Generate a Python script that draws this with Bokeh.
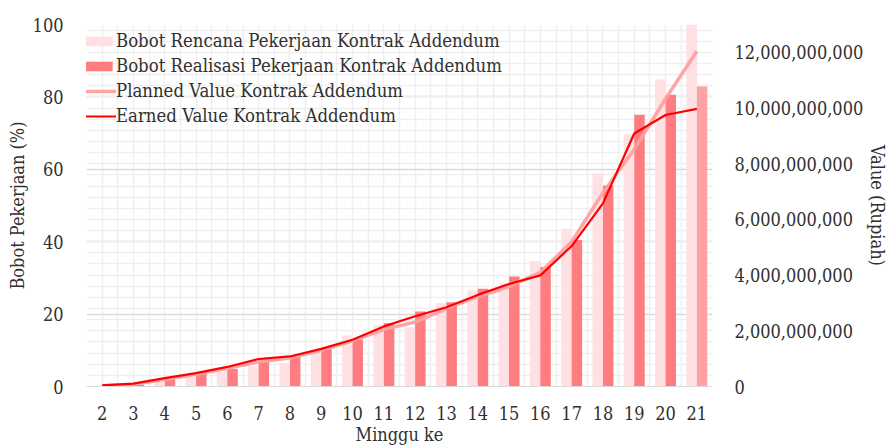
from bokeh.plotting import figure
from bokeh.models import (ColumnDataSource, LinearAxis, Range1d, FixedTicker,
                          NumeralTickFormatter, Grid, Legend, LegendItem)
from bokeh.transform import dodge
from bokeh.embed import file_html
from bokeh.resources import INLINE

# Weekly progress data (week number, cumulative percent, cumulative value in Rupiah)
weeks = list(range(2, 22))
bobot_rencana = [0.2, 0.5, 1.3, 2.6, 4.2, 5.6, 6.5, 10.0, 14.1, 16.9,
                 16.4, 23.0, 26.5, 28.5, 34.6, 43.6, 58.8, 69.7, 84.8, 100.0]
bobot_realisasi = [0.1, 0.4, 2.1, 3.7, 4.8, 7.6, 8.3, 10.7, 13.0, 17.5,
                   20.7, 23.3, 27.0, 30.4, 33.0, 40.5, 55.5, 75.1, 80.6, 82.9]
planned_value = [26e6, 78e6, 247e6, 442e6, 650e6, 884e6, 1027e6, 1300e6, 1638e6, 2041e6,
                 2314e6, 2795e6, 3224e6, 3588e6, 4095e6, 5200e6, 6955e6, 8515e6, 10335e6, 12038e6]
earned_value = [39e6, 104e6, 299e6, 481e6, 702e6, 988e6, 1079e6, 1352e6, 1677e6, 2158e6,
                2522e6, 2847e6, 3289e6, 3679e6, 3991e6, 5044e6, 6578e6, 9087e6, 9750e6, 9971e6]
left_ticks = [0, 20, 40, 60, 80, 100]
right_ticks = [0, 2e9, 4e9, 6e9, 8e9, 10e9, 12e9]

FONT = "DejaVu Serif Condensed"
FONT_SIZE = "18px"
TEXT = "#303030"
LIGHT = "#FFE0E3"
DARK = "#FF7C80"
DARK_LAST = "#FFA2A4"
PV_COLOR = "#FFA0A0"
EV_COLOR = "#FF0000"

real_colors = [DARK] * (len(weeks) - 1) + [DARK_LAST]

src = ColumnDataSource(dict(week=weeks, rencana=bobot_rencana, realisasi=bobot_realisasi,
                            pv=planned_value, ev=earned_value, rcol=real_colors))

p = figure(width=891, height=447, output_backend="svg", toolbar_location=None,
           x_range=Range1d(1.5, 21.5), y_range=Range1d(0, 100),
           min_border_left=86, min_border_right=173, min_border_top=24, min_border_bottom=61)
p.extra_y_ranges = {"val": Range1d(0, 13e9)}
p.outline_line_color = None
p.background_fill_color = "white"

# grids: half-week verticals, fine horizontals from the value axis, major percent lines
p.xgrid.ticker = FixedTicker(ticks=[1.5 + 0.5 * i for i in range(41)])
p.xgrid.grid_line_color = "#EFEFEF"
p.xgrid.grid_line_width = 1.5
p.ygrid.ticker = FixedTicker(ticks=left_ticks)
p.ygrid.grid_line_color = "#D9D9D9"
p.ygrid.grid_line_width = 1.5
minor = Grid(dimension=1, y_range_name="val",
             ticker=FixedTicker(ticks=[0.4e9 * i for i in range(33)]),
             grid_line_color="#EFEFEF", grid_line_width=1.5, level="underlay")
p.add_layout(minor)

bw = 0.335
r_ren = p.vbar(x=dodge("week", -bw / 2, range=p.x_range), top="rencana", width=bw,
               source=src, fill_color=LIGHT, line_color=None)
r_real = p.vbar(x=dodge("week", bw / 2, range=p.x_range), top="realisasi", width=bw,
                source=src, fill_color="rcol", line_color=None)
r_pv = p.line("week", "pv", source=src, y_range_name="val", line_color=PV_COLOR,
              line_width=3.5, line_alpha=0.95)
r_ev = p.line("week", "ev", source=src, y_range_name="val", line_color=EV_COLOR,
              line_width=2.2)

# axes
def style_axis(ax, standoff):
    ax.axis_line_color = None
    ax.major_tick_line_color = None
    ax.minor_tick_line_color = None
    ax.major_label_text_font = FONT
    ax.major_label_text_font_size = FONT_SIZE
    ax.major_label_text_color = TEXT
    ax.major_label_standoff = standoff
    ax.axis_label_text_font = FONT
    ax.axis_label_text_font_size = FONT_SIZE
    ax.axis_label_text_font_style = "normal"
    ax.axis_label_text_color = TEXT

style_axis(p.xaxis[0], 13)
p.xaxis.ticker = FixedTicker(ticks=weeks)
p.xaxis.axis_line_color = "#D9D9D9"
p.xaxis.axis_label = "Minggu ke"
p.xaxis.axis_label_standoff = 1

style_axis(p.yaxis[0], 17)
p.yaxis.ticker = FixedTicker(ticks=left_ticks)
p.yaxis.axis_label = "Bobot Pekerjaan (%)"
p.yaxis.axis_label_standoff = 2

ax_r = LinearAxis(y_range_name="val", ticker=FixedTicker(ticks=right_ticks),
                  formatter=NumeralTickFormatter(format="0,0"))
style_axis(ax_r, 16)
ax_r.axis_label = "Value (Rupiah)"
ax_r.axis_label_standoff = 1
p.add_layout(ax_r, "right")

legend = Legend(items=[
    LegendItem(label="Bobot Rencana Pekerjaan Kontrak Addendum", renderers=[r_ren]),
    LegendItem(label="Bobot Realisasi Pekerjaan Kontrak Addendum", renderers=[r_real]),
    LegendItem(label="Planned Value Kontrak Addendum", renderers=[r_pv]),
    LegendItem(label="Earned Value Kontrak Addendum", renderers=[r_ev]),
], location=(-8, 260))
legend.background_fill_alpha = 0
legend.border_line_color = None
legend.label_text_font = FONT
legend.label_text_font_size = "18.4px"
legend.label_text_color = TEXT
legend.glyph_width = 38
legend.glyph_height = 12
legend.label_height = 21
legend.label_standoff = 0
legend.spacing = 4
legend.padding = 0
legend.margin = 0
p.add_layout(legend)

open("out.html", "w").write(file_html(p, INLINE))
